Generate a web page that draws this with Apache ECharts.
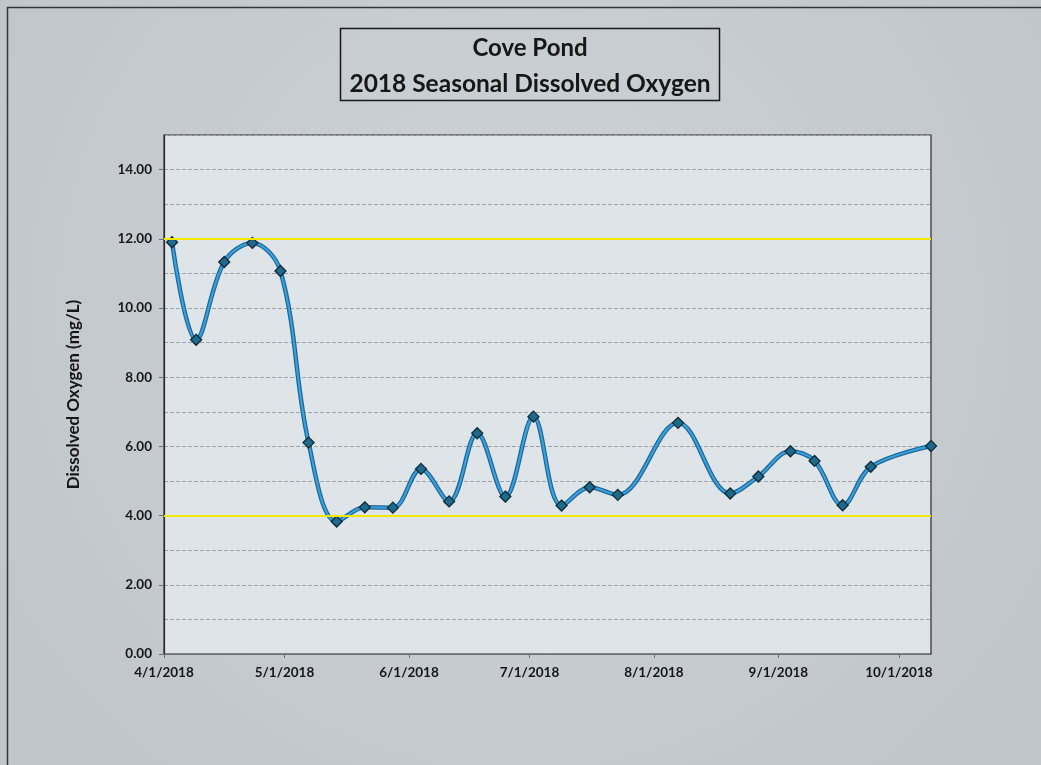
<!DOCTYPE html>
<html>
<head>
<meta charset="utf-8">
<title>Cove Pond 2018 Seasonal Dissolved Oxygen</title>
<script src="https://cdn.jsdelivr.net/npm/echarts@6/dist/echarts.min.js"></script>
<style>
  html, body { margin: 0; padding: 0; background: #c5cbcf; }
  #chart { width: 1041px; height: 765px; }
</style>
</head>
<body>
<div id="chart"></div>
<script>
// Sampling dates and dissolved oxygen readings (mg/L)
const sampleDates = [
  '2018-04-03', '2018-04-09', '2018-04-16', '2018-04-23', '2018-04-30',
  '2018-05-07', '2018-05-14', '2018-05-21', '2018-05-28', '2018-06-04',
  '2018-06-11', '2018-06-18', '2018-06-25', '2018-07-02', '2018-07-09',
  '2018-07-16', '2018-07-23', '2018-08-07', '2018-08-20', '2018-08-27',
  '2018-09-04', '2018-09-10', '2018-09-17', '2018-09-24', '2018-10-09'
];
const oxygenValues = [
  11.90, 9.08, 11.33, 11.88, 11.07,
  6.11, 3.83, 4.24, 4.23, 5.35,
  4.41, 6.38, 4.55, 6.86, 4.29,
  4.82, 4.60, 6.68, 4.64, 5.13,
  5.86, 5.58, 4.30, 5.41, 6.01
];
// Reference limits drawn as yellow lines
const limitValues = [4, 12];
// Month tick labels on the date axis
const monthTicks = [
  '2018-04-01', '2018-05-01', '2018-06-01', '2018-07-01',
  '2018-08-01', '2018-09-01', '2018-10-01'
];
// Labelled values on the oxygen axis
const yTickValues = [0, 2, 4, 6, 8, 10, 12, 14];
const titleLines = ['Cove Pond', '2018 Seasonal Dissolved Oxygen'];

function toTime(s) {
  const p = s.split('-').map(Number);
  return new Date(p[0], p[1] - 1, p[2]).getTime();
}
const points = sampleDates.map((d, i) => [toTime(d), oxygenValues[i]]);
const monthTickTimes = monthTicks.map(toTime);

const FONT = 'Lato, "Open Sans", sans-serif';
const TEXT = '#161616';
const SMOOTH = 0.36;

const chart = echarts.init(document.getElementById('chart'), null, { renderer: 'canvas' });

chart.setOption({
  animation: false,
  backgroundColor: {
    type: 'radial', x: 0.5, y: 0.4, r: 0.8,
    colorStops: [
      { offset: 0, color: '#ced3d7' },
      { offset: 1, color: '#c0c6ca' }
    ]
  },
  graphic: [
    {
      type: 'rect', silent: true, z: 0,
      shape: { x: 7.5, y: 7.5, width: 1100, height: 900 },
      style: { fill: 'none', stroke: '#2e3a40', lineWidth: 1.5 }
    },
    {
      type: 'rect', silent: true, z: 1,
      shape: { x: 340.5, y: 28.5, width: 379, height: 72 },
      style: { fill: 'rgba(0,0,0,0)', stroke: '#1a1a1a', lineWidth: 1.5 }
    },
    {
      type: 'text', silent: true, z: 2,
      x: 530, y: 48,
      style: {
        text: titleLines[0],
        font: 'bold 24px ' + FONT,
        fill: TEXT, textAlign: 'center', textVerticalAlign: 'middle'
      }
    },
    {
      type: 'text', silent: true, z: 2,
      x: 530, y: 84,
      style: {
        text: titleLines[1],
        font: 'bold 24.5px ' + FONT,
        fill: TEXT, textAlign: 'center', textVerticalAlign: 'middle'
      }
    }
  ],
  grid: {
    left: 164, right: 110, top: 135, bottom: 111,
    show: true,
    backgroundColor: '#dfe4e9',
    borderColor: '#2b2b2b',
    borderWidth: 1.2
  },
  xAxis: {
    // dates are plotted as timestamps on a linear axis
    type: 'value',
    min: toTime('2018-04-01'),
    max: toTime('2018-10-09'),
    axisLine: { show: true, lineStyle: { color: '#6a6f73', width: 1 } },
    axisTick: {
      show: true, length: 4, inside: false,
      customValues: monthTickTimes,
      lineStyle: { color: '#6a6f73' }
    },
    axisLabel: {
      customValues: monthTickTimes,
      showMinLabel: true, showMaxLabel: true,
      margin: 12,
      color: TEXT,
      fontFamily: FONT, fontWeight: 'bold', fontSize: 13.5,
      formatter: function (val) {
        const d = new Date(val);
        return (d.getMonth() + 1) + '/' + d.getDate() + '/' + d.getFullYear();
      }
    },
    splitLine: { show: false }
  },
  yAxis: [
    {
      type: 'value',
      min: 0, max: 15, interval: 1,
      name: 'Dissolved Oxygen (mg/L)',
      nameLocation: 'middle',
      nameGap: 82,
      nameRotate: 90,
      nameTextStyle: { color: TEXT, fontFamily: FONT, fontWeight: 'bold', fontSize: 17 },
      axisLine: { show: true, lineStyle: { color: '#2b2b2b', width: 1.2 } },
      axisTick: {
        show: true, length: 5, inside: false,
        customValues: yTickValues,
        lineStyle: { color: '#6a6f73' }
      },
      axisLabel: {
        customValues: yTickValues,
        margin: 12,
        color: TEXT,
        fontFamily: FONT, fontWeight: 'bold', fontSize: 13.5,
        formatter: v => v.toFixed(2)
      },
      splitLine: { show: false }
    },
    {
      // unlabelled axis that draws a dashed gridline at every unit
      type: 'value',
      position: 'left',
      min: 0, max: 15, interval: 1,
      axisLine: { show: false },
      axisTick: { show: false },
      axisLabel: { show: false },
      splitLine: {
        show: true,
        lineStyle: { color: '#9da3a8', width: 1, type: [4, 2] }
      }
    }
  ],
  series: [
    {
      // darker outline under the curve, carries the limit lines
      name: 'outline',
      type: 'line',
      data: points,
      smooth: SMOOTH,
      symbol: 'none',
      silent: true,
      z: 2,
      lineStyle: { color: '#1f6797', width: 4.5 },
      markLine: {
        silent: true,
        symbol: 'none',
        label: { show: false },
        lineStyle: { color: '#f1e800', width: 2.2, type: 'solid' },
        data: limitValues.map(v => ({ yAxis: v }))
      }
    },
    {
      name: 'Dissolved Oxygen',
      type: 'line',
      data: points,
      smooth: SMOOTH,
      z: 3,
      symbol: 'diamond',
      symbolSize: 11,
      showAllSymbol: true,
      lineStyle: { color: '#38a3e0', width: 2 },
      itemStyle: { color: '#1d6a8c', borderColor: '#0e2a38', borderWidth: 1.3 }
    }
  ]
});
</script>
</body>
</html>
